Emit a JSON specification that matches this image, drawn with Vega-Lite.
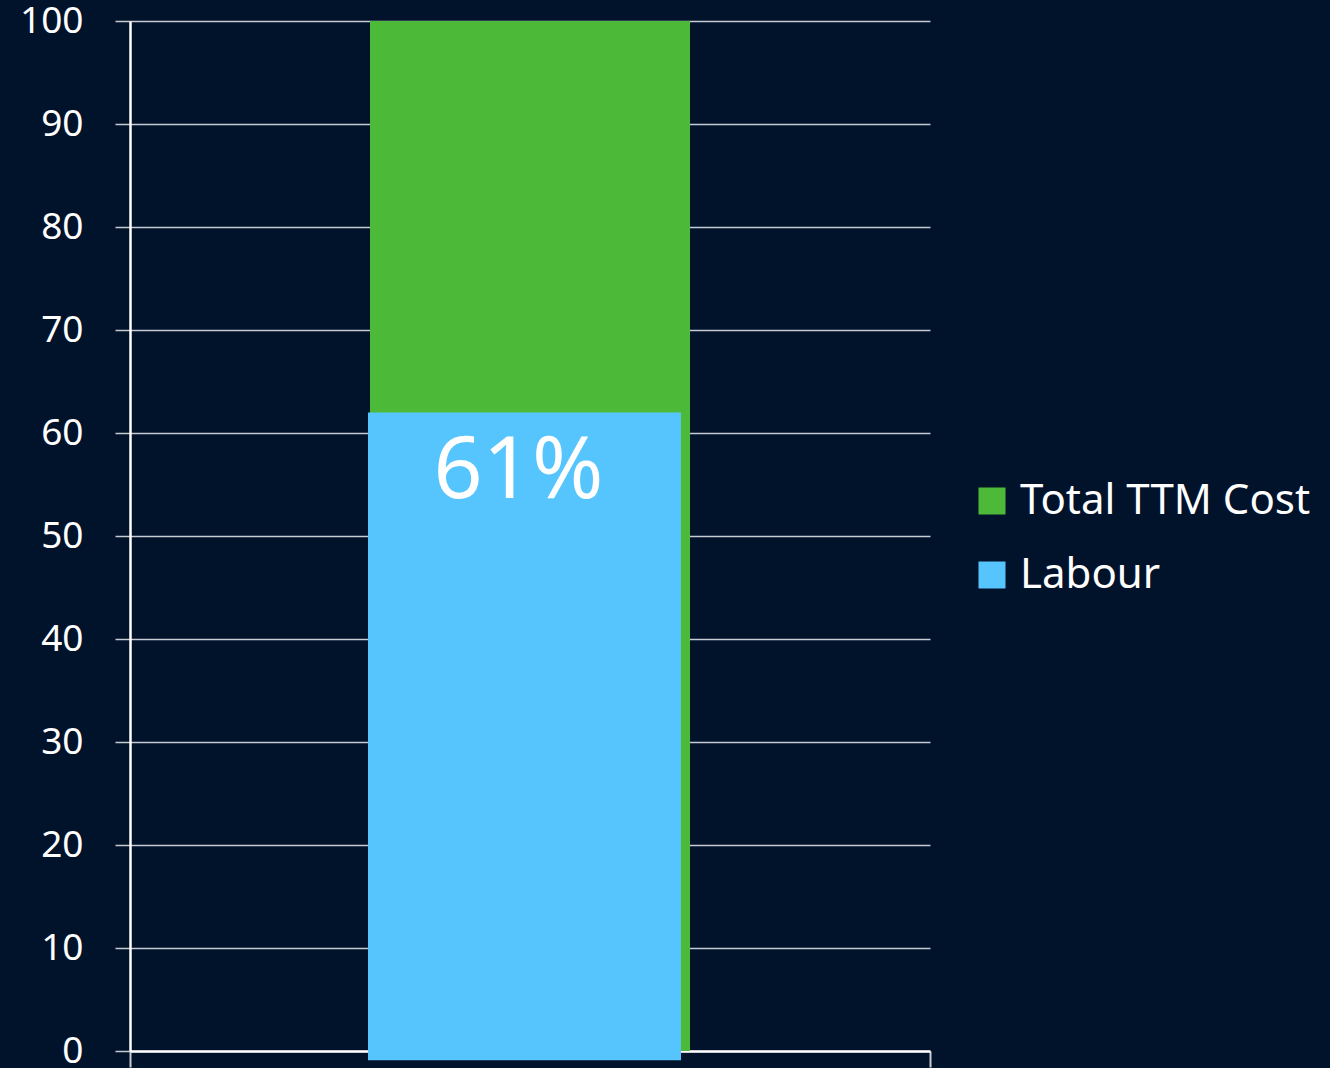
{
  "$schema": "https://vega.github.io/schema/vega-lite/v6.json",
  "width": 800,
  "height": 1030,
  "autosize": {"type": "none"},
  "padding": {"left": 130, "top": 21, "right": 400, "bottom": 17},
  "background": "#01122b",
  "config": {
    "view": {"stroke": null},
    "font": "Noto Sans"
  },
  "data": {
    "values": [
      {"series": "Total TTM Cost", "start": 0, "end": 100, "x0": 3.0, "x1": 7.0, "label": ""},
      {"series": "Labour", "start": -0.9, "end": 62, "x0": 2.975, "x1": 6.8875, "label": "61%"}
    ]
  },
  "layer": [
    {
      "mark": {"type": "bar"},
      "encoding": {
        "x": {
          "field": "x0", "type": "quantitative",
          "scale": {"domain": [0, 10], "nice": false, "zero": false},
          "axis": {
            "values": [0, 10], "labels": false, "title": null, "grid": false,
            "domainColor": "#ffffff", "domainWidth": 2.5,
            "tickColor": "#c8ccd2", "tickSize": 16, "tickWidth": 2
          }
        },
        "x2": {"field": "x1"},
        "y": {
          "field": "start", "type": "quantitative",
          "scale": {"domain": [0, 100], "nice": false},
          "axis": {
            "values": [0, 10, 20, 30, 40, 50, 60, 70, 80, 90, 100],
            "title": null,
            "domainColor": "#ffffff", "domainWidth": 2.5,
            "gridColor": "#c8ccd2", "gridWidth": 1.5, "gridOpacity": 1,
            "tickColor": "#c8ccd2", "tickSize": 15, "tickWidth": 1.5,
            "labelColor": "#ffffff", "labelFontSize": 37, "labelPadding": 32,
            "labelFont": "Noto Sans"
          }
        },
        "y2": {"field": "end"},
        "color": {
          "field": "series", "type": "nominal",
          "scale": {"domain": ["Total TTM Cost", "Labour"], "range": ["#4cba38", "#57c5fd"]},
          "legend": {
            "orient": "none", "legendX": 841, "legendY": 459,
            "title": null, "symbolType": "square", "symbolSize": 729,
            "symbolStrokeWidth": 0, "symbolOpacity": 1,
            "labelColor": "#ffffff", "labelFontSize": 42, "labelFont": "Noto Sans",
            "labelOffset": 7, "rowPadding": 32, "labelLimit": 400
          }
        }
      }
    },
    {
      "transform": [
        {"filter": "datum.label != ''"},
        {"calculate": "(datum.x0 + datum.x1) / 2", "as": "mid"}
      ],
      "mark": {"type": "text", "color": "#ffffff", "fontSize": 86, "baseline": "top", "dy": 18, "dx": -6, "align": "center"},
      "encoding": {
        "x": {"field": "mid", "type": "quantitative"},
        "y": {"field": "end", "type": "quantitative"},
        "text": {"field": "label"}
      }
    }
  ]
}
